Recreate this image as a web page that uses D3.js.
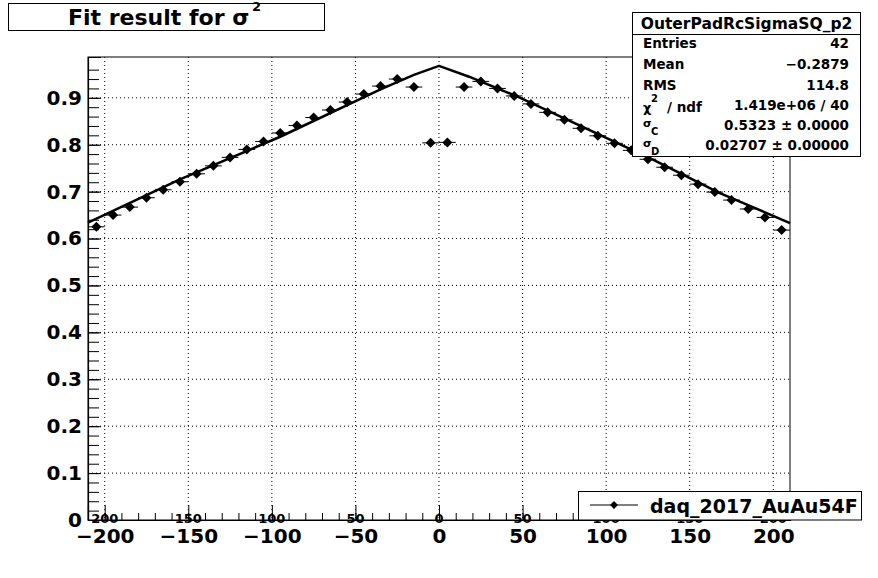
<!DOCTYPE html>
<html><head><meta charset="utf-8">
<script src="https://cdn.jsdelivr.net/npm/d3@7"></script>
<style>body{margin:0;background:#fff}svg{display:block}text{font-family:"DejaVu Sans",sans-serif;font-weight:bold;fill:#000}</style>
</head><body><svg id="c" width="878" height="578"></svg>
<script>
// ---------- data ----------
const binCenters = [-205,-195,-185,-175,-165,-155,-145,-135,-125,-115,-105,-95,-85,-75,-65,-55,-45,-35,-25,-15,-5,
                    5,15,25,35,45,55,65,75,85,95,105,115,125,135,145,155,165,175,185,195,205];
const sigmaSq = [0.625,0.650,0.667,0.687,0.704,0.721,0.738,0.755,0.773,0.790,0.807,0.825,0.841,0.858,0.874,0.891,0.908,0.925,0.940,0.923,0.804,
                 0.805,0.923,0.935,0.920,0.904,0.887,0.869,0.853,0.835,0.819,0.803,0.788,0.769,0.752,0.735,0.716,0.699,0.682,0.663,0.645,0.618];
const binHalfWidth = 5;
const fitX = [-210,-155,-95,-35,-15,0,18,48,128,168,210];
const fitY = [0.634,0.726,0.817,0.918,0.949,0.968,0.945,0.901,0.768,0.697,0.633];
const xTickVals = [-200,-150,-100,-50,0,50,100,150,200];
const xTickLabels = ["\u2212200","\u2212150","\u2212100","\u221250","0","50","100","150","200"];
const smallTickLabels = ["200","150","100","50","0","50","100","150","200"];
const yTickVals = [0,0.1,0.2,0.3,0.4,0.5,0.6,0.7,0.8,0.9];
const yTickLabels = ["0","0.1","0.2","0.3","0.4","0.5","0.6","0.7","0.8","0.9"];
const statsTitle = "OuterPadRcSigmaSQ_p2";
const statsNames = ["Entries","Mean","RMS"];
const statsValues = ["42","\u22120.2879","114.8"];
const chi2Value = "1.419e+06 / 40";
const paramNames = ["C","D"];
const paramValues = ["0.5323 \u00b1 0.0000","0.02707 \u00b1 0.00000"];
const legendLabel = "daq_2017_AuAu54F";
const titleText = "Fit result for \u03c3";

// ---------- layout ----------
const svg = d3.select("#c");
const L=88,R=790,T=57,B=520;
const x = d3.scaleLinear().domain([-210,210]).range([L,R]);
const y = d3.scaleLinear().domain([0,0.987]).range([B,T]);

svg.append("rect").attr("width",878).attr("height",578).attr("fill","#fff");

// grid
const g = svg.append("g");
g.selectAll(".gx").data(xTickVals).join("line")
  .attr("x1",d=>x(d)).attr("x2",d=>x(d)).attr("y1",T).attr("y2",B)
  .attr("stroke","#000").attr("stroke-width",1).attr("stroke-dasharray","1,3");
g.selectAll(".gy").data(yTickVals.filter(v=>v>0)).join("line")
  .attr("x1",L).attr("x2",R).attr("y1",d=>y(d)).attr("y2",d=>y(d))
  .attr("stroke","#000").attr("stroke-width",1).attr("stroke-dasharray","1,3");

// frame
svg.append("rect").attr("x",L).attr("y",T).attr("width",R-L).attr("height",B-T)
  .attr("fill","none").attr("stroke","#000").attr("stroke-width",1);

// y axis
const yMinor = d3.range(0,0.98,0.02);
svg.append("g").attr("transform",`translate(${L},0)`)
  .call(d3.axisLeft(y).tickValues(yMinor).tickSize(-11).tickFormat(""))
  .call(s=>{s.select(".domain").remove();s.selectAll("line").attr("stroke-width",1);});
svg.append("g").attr("transform",`translate(${L},0)`)
  .call(d3.axisLeft(y).tickValues(yTickVals).tickSize(-13).tickPadding(6).tickFormat((d,i)=>yTickLabels[i]))
  .call(s=>{s.select(".domain").attr("stroke-width",1.2);s.selectAll("text").style("font-size","20px").attr("font-family","DejaVu Sans").attr("font-weight","bold");});

// x axis
const xMinor = d3.range(-200,211,10);
svg.append("g").attr("transform",`translate(0,${B})`)
  .call(d3.axisBottom(x).tickValues(xMinor).tickSize(-7).tickFormat(""))
  .call(s=>{s.select(".domain").remove();});
svg.append("g").attr("transform",`translate(0,${B})`)
  .call(d3.axisBottom(x).tickValues(xTickVals).tickSize(-15).tickPadding(9).tickFormat((d,i)=>xTickLabels[i]))
  .call(s=>{s.select(".domain").attr("stroke-width",1.2);s.selectAll("text").style("font-size","20px").attr("font-family","DejaVu Sans").attr("font-weight","bold");});
// small secondary labels
svg.append("g").selectAll("text").data(xTickVals).join("text")
  .attr("x",d=>x(d)).attr("y",B+3).attr("text-anchor","middle")
  .style("font-size","13px").text((d,i)=>smallTickLabels[i]);

// error bars + markers
const pts = binCenters.map((c,i)=>({x:c,y:sigmaSq[i]}));
svg.append("g").selectAll("line").data(pts).join("line")
  .attr("x1",d=>x(d.x-binHalfWidth)).attr("x2",d=>x(d.x+binHalfWidth))
  .attr("y1",d=>y(d.y)).attr("y2",d=>y(d.y)).attr("stroke","#000").attr("stroke-width",1);
const diamond = "M0,-5L5,0L0,5L-5,0Z";
svg.append("g").selectAll("path").data(pts).join("path")
  .attr("transform",d=>`translate(${x(d.x)},${y(d.y)})`).attr("d",diamond).attr("fill","#000");

// fit line
const fitPts = fitX.map((v,i)=>[v,fitY[i]]);
svg.append("path").datum(fitPts)
  .attr("d",d3.line().x(d=>x(d[0])).y(d=>y(d[1])))
  .attr("fill","none").attr("stroke","#000").attr("stroke-width",2.5).attr("stroke-linejoin","round");

// title box
svg.append("rect").attr("x",8.5).attr("y",3.5).attr("width",316).attr("height",27)
  .attr("fill","#fff").attr("stroke","#000");
svg.append("text").attr("x",68).attr("y",25).style("font-size","22px").text(titleText);
svg.append("text").attr("x",252).attr("y",11).style("font-size","13px").text("2");

// stats box
const sx=632.5, sw=228, sy=12.5, sh=144;
svg.append("rect").attr("x",sx).attr("y",sy).attr("width",sw).attr("height",sh)
  .attr("fill","#fff").attr("stroke","#000");
svg.append("line").attr("x1",sx).attr("x2",sx+sw).attr("y1",34.5).attr("y2",34.5).attr("stroke","#000");
svg.append("text").attr("x",sx+sw/2).attr("y",28.5).attr("text-anchor","middle").style("font-size","15.5px").text(statsTitle);
const rowY=[48,69,90];
statsNames.forEach((n,i)=>{
  svg.append("text").attr("x",643).attr("y",rowY[i]).style("font-size","13.5px").text(n);
  svg.append("text").attr("x",849).attr("y",rowY[i]).attr("text-anchor","end").style("font-size","13.5px").text(statsValues[i]);
});
svg.append("text").attr("x",643).attr("y",112).style("font-size","13px").text("\u03c7");
svg.append("text").attr("x",651).attr("y",102).style("font-size","10px").text("2");
svg.append("text").attr("x",667).attr("y",112).style("font-size","13.5px").text("/ ndf");
svg.append("text").attr("x",849).attr("y",110).attr("text-anchor","end").style("font-size","13.5px").text(chi2Value);
const pY=[130,150];
paramNames.forEach((n,i)=>{
  svg.append("text").attr("x",643).attr("y",pY[i]-3).style("font-size","11px").text("\u03c3");
  svg.append("text").attr("x",651).attr("y",pY[i]+5).style("font-size","10px").text(n);
  svg.append("text").attr("x",849).attr("y",pY[i]).attr("text-anchor","end").style("font-size","13.5px").text(paramValues[i]);
});

// legend
svg.append("rect").attr("x",578.5).attr("y",491.5).attr("width",283).attr("height",28.5)
  .attr("fill","#fff").attr("stroke","#000");
svg.append("line").attr("x1",590).attr("x2",638).attr("y1",505).attr("y2",505).attr("stroke","#000");
svg.append("path").attr("transform","translate(614,505)").attr("d","M0,-4L4,0L0,4L-4,0Z").attr("fill","#000");
svg.append("text").attr("x",650).attr("y",513).style("font-size","19px").text(legendLabel);
</script></body></html>
